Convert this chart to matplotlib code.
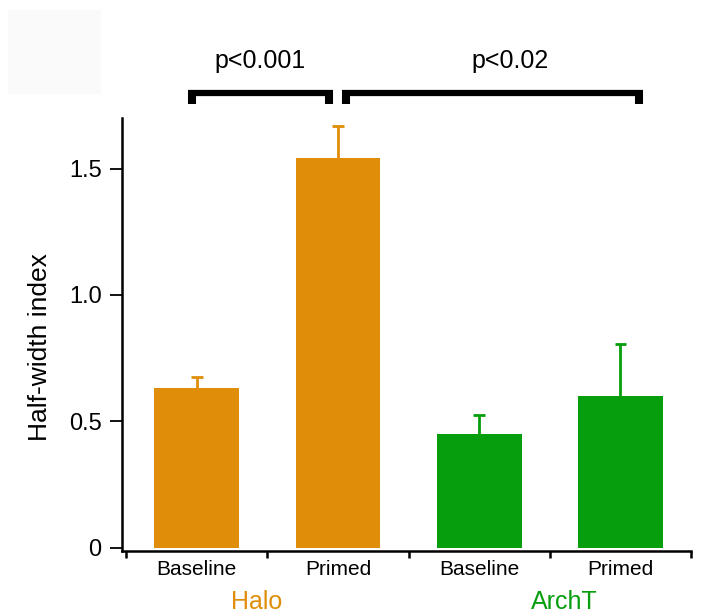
import numpy as np
import matplotlib
matplotlib.use("Agg")
from matplotlib import pyplot as plt
from matplotlib.patches import Rectangle
from matplotlib.transforms import blended_transform_factory

plt.rcParams['font.family'] = ['Liberation Sans', 'DejaVu Sans']

# half-width index, mean and upper error
conditions = ["Baseline", "Primed", "Baseline", "Primed"]
groups = ["Halo", "ArchT"]
means = [0.633, 1.541, 0.451, 0.599]
errors = [0.042, 0.127, 0.075, 0.205]
p_labels = ["p<0.001", "p<0.02"]

orange = "#E08E0A"
green = "#079E0D"
bar_colors = [orange, orange, green, green]

fig = plt.figure(figsize=(7.02, 6.16), dpi=100)
# faint grey patch in the top-left corner
fig.patches.append(Rectangle((8 / 702, 1 - 93 / 616), 92 / 702, 83 / 616,
                             transform=fig.transFigure, color="#fafafa", zorder=0))
ax = fig.add_axes([122 / 702, 0.106, (691 - 122) / 702, 0.7024])

x = np.arange(len(means))
cap = 0.041
for i in x:
    ax.bar(i, means[i], width=0.6, color=bar_colors[i], zorder=2)
    top = means[i] + errors[i]
    # upper error only: stem plus cap
    ax.vlines(i, means[i], top, color=bar_colors[i], lw=2.0, zorder=3)
    ax.hlines(top, i - cap, i + cap, color=bar_colors[i], lw=2.0, zorder=3)

ax.set_xlim(-0.53, 3.5)
ax.set_ylim(-0.012, 1.7)
ax.set_yticks([0, 0.5, 1.0, 1.5])
ax.set_yticklabels(["0", "0.5", "1.0", "1.5"], fontsize=17)
ax.tick_params(axis="y", length=8.6, width=1.3, pad=6, direction="out")

ax.set_xticks(x)
ax.set_xticklabels(conditions, fontsize=15)
ax.tick_params(axis="x", which="major", length=0, pad=7)
ax.set_xticks([-0.5, 0.5, 1.5, 2.5, 3.5], minor=True)
ax.tick_params(axis="x", which="minor", length=5, width=1.8, direction="out")

for s in ["top", "right"]:
    ax.spines[s].set_visible(False)
for s in ["left", "bottom"]:
    ax.spines[s].set_linewidth(1.8)

ax.set_ylabel("Half-width index", fontsize=19)
ax.yaxis.set_label_coords(-0.1235, 0.47)

# group names under the tick labels
tr = blended_transform_factory(ax.transData, fig.transFigure)
ax.text(0.42, 0.012, groups[0], transform=tr, ha="center", va="baseline",
        fontsize=18, color=orange)
ax.text(2.60, 0.012, groups[1], transform=tr, ha="center", va="baseline",
        fontsize=18, color=green)

# significance brackets
def bracket(x0, x1, label, xt):
    ax.plot([x0, x0], [1.755, 1.811], color="black", lw=5.8,
            solid_capstyle="butt", clip_on=False)
    ax.plot([x1, x1], [1.755, 1.811], color="black", lw=5.8,
            solid_capstyle="butt", clip_on=False)
    ax.plot([x0 - 0.028, x1 + 0.028], [1.8, 1.8], color="black", lw=4.5,
            solid_capstyle="butt", clip_on=False)
    ax.text(xt, 1.88, label, ha="center", va="bottom", fontsize=18)

bracket(-0.035, 0.934, p_labels[0], 0.446)
bracket(1.055, 3.13, p_labels[1], 2.22)

fig.savefig("out.png", dpi=100)
